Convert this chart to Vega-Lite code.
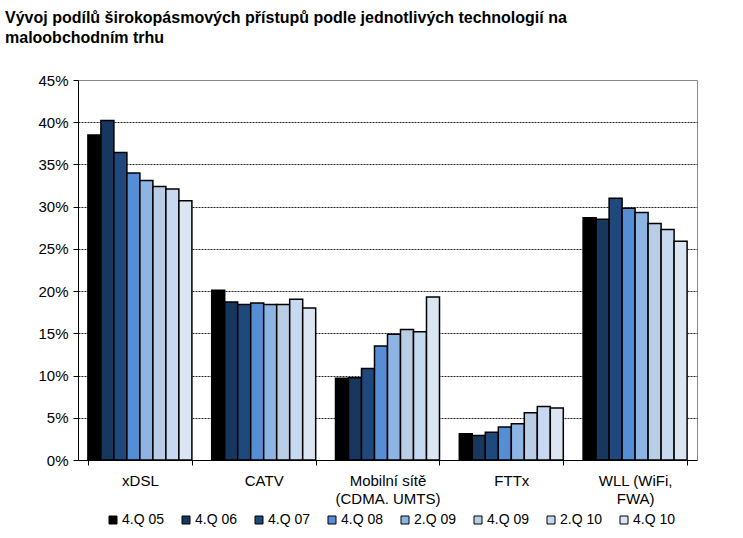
{
  "$schema": "https://vega.github.io/schema/vega-lite/v6.json",
  "width": 619,
  "height": 380,
  "autosize": "none",
  "padding": {"left": 78, "top": 80, "right": 46, "bottom": 78},
  "background": "white",
  "title": {
    "text": ["Vývoj podílů širokopásmových přístupů podle jednotlivých technologií na", "maloobchodním trhu"],
    "anchor": "start",
    "frame": "group",
    "font": "Liberation Sans",
    "fontSize": 16,
    "fontWeight": "bold",
    "color": "#000",
    "dx": -73,
    "offset": 27,
    "lineHeight": 20
  },
  "config": {
    "view": {"stroke": "#888", "strokeWidth": 1},
    "font": "Liberation Sans"
  },
  "data": {
    "values": [
      {"cat": "xDSL", "period": "4.Q 05", "value": 38.5},
      {"cat": "xDSL", "period": "4.Q 06", "value": 40.2},
      {"cat": "xDSL", "period": "4.Q 07", "value": 36.4},
      {"cat": "xDSL", "period": "4.Q 08", "value": 34.0},
      {"cat": "xDSL", "period": "2.Q 09", "value": 33.1},
      {"cat": "xDSL", "period": "4.Q 09", "value": 32.4},
      {"cat": "xDSL", "period": "2.Q 10", "value": 32.1},
      {"cat": "xDSL", "period": "4.Q 10", "value": 30.7},
      {"cat": "CATV", "period": "4.Q 05", "value": 20.1},
      {"cat": "CATV", "period": "4.Q 06", "value": 18.7},
      {"cat": "CATV", "period": "4.Q 07", "value": 18.4},
      {"cat": "CATV", "period": "4.Q 08", "value": 18.6},
      {"cat": "CATV", "period": "2.Q 09", "value": 18.4},
      {"cat": "CATV", "period": "4.Q 09", "value": 18.4},
      {"cat": "CATV", "period": "2.Q 10", "value": 19.05},
      {"cat": "CATV", "period": "4.Q 10", "value": 18.0},
      {"cat": "Mobilní sítě\n(CDMA. UMTS)", "period": "4.Q 05", "value": 9.67},
      {"cat": "Mobilní sítě\n(CDMA. UMTS)", "period": "4.Q 06", "value": 9.75},
      {"cat": "Mobilní sítě\n(CDMA. UMTS)", "period": "4.Q 07", "value": 10.85},
      {"cat": "Mobilní sítě\n(CDMA. UMTS)", "period": "4.Q 08", "value": 13.5},
      {"cat": "Mobilní sítě\n(CDMA. UMTS)", "period": "2.Q 09", "value": 14.9},
      {"cat": "Mobilní sítě\n(CDMA. UMTS)", "period": "4.Q 09", "value": 15.45},
      {"cat": "Mobilní sítě\n(CDMA. UMTS)", "period": "2.Q 10", "value": 15.2},
      {"cat": "Mobilní sítě\n(CDMA. UMTS)", "period": "4.Q 10", "value": 19.3},
      {"cat": "FTTx", "period": "4.Q 05", "value": 3.1},
      {"cat": "FTTx", "period": "4.Q 06", "value": 2.9},
      {"cat": "FTTx", "period": "4.Q 07", "value": 3.3},
      {"cat": "FTTx", "period": "4.Q 08", "value": 3.9},
      {"cat": "FTTx", "period": "2.Q 09", "value": 4.3},
      {"cat": "FTTx", "period": "4.Q 09", "value": 5.6},
      {"cat": "FTTx", "period": "2.Q 10", "value": 6.35},
      {"cat": "FTTx", "period": "4.Q 10", "value": 6.15},
      {"cat": "WLL (WiFi,\nFWA)", "period": "4.Q 05", "value": 28.7},
      {"cat": "WLL (WiFi,\nFWA)", "period": "4.Q 06", "value": 28.5},
      {"cat": "WLL (WiFi,\nFWA)", "period": "4.Q 07", "value": 31.0},
      {"cat": "WLL (WiFi,\nFWA)", "period": "4.Q 08", "value": 29.8},
      {"cat": "WLL (WiFi,\nFWA)", "period": "2.Q 09", "value": 29.3},
      {"cat": "WLL (WiFi,\nFWA)", "period": "4.Q 09", "value": 28.0},
      {"cat": "WLL (WiFi,\nFWA)", "period": "2.Q 10", "value": 27.3},
      {"cat": "WLL (WiFi,\nFWA)", "period": "4.Q 10", "value": 25.9}
    ]
  },
  "mark": {"type": "bar", "stroke": "#000", "strokeWidth": 1.5},
  "encoding": {
    "x": {
      "field": "cat",
      "type": "nominal",
      "sort": null,
      "scale": {"paddingInner": 0.16, "paddingOuter": 0.08},
      "axis": {
        "title": null,
        "labelAngle": 0,
        "labelExpr": "split(datum.label, '\\n')",
        "labelFontSize": 15,
        "labelColor": "#000",
        "labelPadding": 8,
        "labelLineHeight": 18,
        "tickBand": "extent",
        "ticks": true,
        "tickSize": 5,
        "tickColor": "#000",
        "domainColor": "#000",
        "grid": false
      }
    },
    "xOffset": {
      "field": "period",
      "type": "nominal",
      "sort": null,
      "scale": {"paddingInner": 0, "paddingOuter": 0}
    },
    "y": {
      "field": "value",
      "type": "quantitative",
      "scale": {"domain": [0, 45], "nice": false},
      "axis": {
        "title": null,
        "values": [0, 5, 10, 15, 20, 25, 30, 35, 40, 45],
        "labelExpr": "datum.value + '%'",
        "labelFontSize": 15,
        "labelColor": "#000",
        "labelPadding": 5,
        "tickSize": 5,
        "tickColor": "#000",
        "domainColor": "#000",
        "grid": true,
        "gridColor": {"condition": {"test": "datum.value === 0 || datum.value === 45", "value": "transparent"}, "value": "#222"},
        "gridDash": [2, 1],
        "gridWidth": 1
      }
    },
    "color": {
      "field": "period",
      "type": "nominal",
      "sort": null,
      "scale": {
        "domain": ["4.Q 05", "4.Q 06", "4.Q 07", "4.Q 08", "2.Q 09", "4.Q 09", "2.Q 10", "4.Q 10"],
        "range": ["#000000", "#17375E", "#1F497D", "#558ED5", "#8EB4E3", "#B9CDE5", "#C6D9F1", "#DCE6F2"]
      },
      "legend": {
        "title": null,
        "orient": "none",
        "legendX": 28,
        "legendY": 433,
        "direction": "horizontal",
        "columns": 8,
        "symbolType": "square",
        "symbolSize": 64,
        "symbolStrokeColor": "#000",
        "symbolStrokeWidth": 1,
        "symbolOpacity": 1,
        "labelFontSize": 14,
        "labelColor": "#000",
        "labelOffset": 2,
        "columnPadding": 14
      }
    }
  }
}
